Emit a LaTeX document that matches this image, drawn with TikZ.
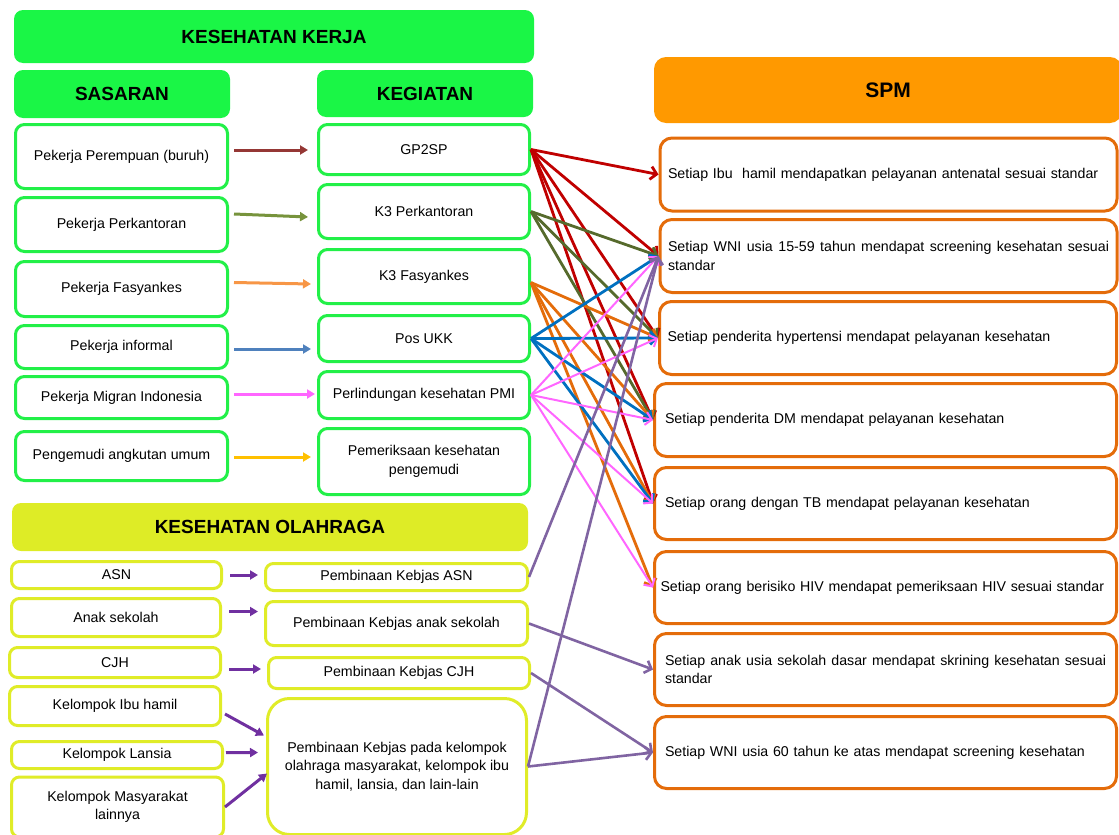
\documentclass[tikz,border=0pt]{standalone}
\usepackage{fontspec}
\setmainfont{Liberation Sans}
\usetikzlibrary{arrows.meta,calc}
\hyphenpenalty=10000
\exhyphenpenalty=10000
\definecolor{hgreen}{RGB}{26,246,70}
\definecolor{bgreen}{RGB}{34,240,72}
\definecolor{hyellow}{RGB}{222,236,38}
\definecolor{byellow}{RGB}{224,236,40}
\definecolor{horange}{RGB}{255,153,0}
\definecolor{borange}{RGB}{228,108,10}
\definecolor{cred}{RGB}{192,0,0}
\definecolor{credl}{RGB}{149,55,53}
\definecolor{colive}{RGB}{86,106,44}
\definecolor{colivel}{RGB}{119,147,60}
\definecolor{corange}{RGB}{228,108,10}
\definecolor{corangel}{RGB}{247,150,70}
\definecolor{cblue}{RGB}{0,112,192}
\definecolor{cbluel}{RGB}{79,129,189}
\definecolor{cpink}{RGB}{255,102,255}
\definecolor{cyell}{RGB}{255,192,0}
\definecolor{cpurple}{RGB}{112,48,160}
\definecolor{cpurplel}{RGB}{128,100,162}
\begin{document}
\begin{tikzpicture}[x=1pt,y=-1pt, font=\fontsize{14.2}{18.5}\selectfont,
  hdr/.style={rounded corners=9pt, inner sep=0pt, font=\fontsize{19}{22}\selectfont\bfseries},
  gbox/.style={draw=bgreen, line width=3pt, rounded corners=9pt, inner sep=0pt, align=center, fill=white},
  ybox/.style={draw=byellow, line width=3pt, rounded corners=8pt, inner sep=0pt, align=center, fill=white},
  obox/.style={draw=borange, line width=3pt, rounded corners=12pt, inner xsep=8pt, inner ysep=0pt, text width=441pt, minimum height=73pt, fill=white},
  sarrow/.style={line width=3pt, -{Triangle[length=8pt,width=9pt]}},
  parrow/.style={line width=3pt, draw=cpurple, -{Triangle[length=8pt,width=9pt]}},
  conn/.style={line width=2.8pt, -{Straight Barb[length=6pt,width=13pt]}},
]
\useasboundingbox (0,0) rectangle (1119,835);
% headers
\node[hdr, fill=hgreen, minimum width=520pt, minimum height=53pt] (kk) at (274,36.5) {KESEHATAN KERJA};
\node[hdr, fill=hgreen, minimum width=216pt, minimum height=48pt] (sas) at (122,94) {SASARAN};
\node[hdr, fill=hgreen, minimum width=216pt, minimum height=47pt] (keg) at (425,93.5) {KEGIATAN};
\node[hdr, fill=hyellow, minimum width=516pt, minimum height=48pt] (ko) at (270,527) {KESEHATAN OLAHRAGA};
\node[hdr, fill=horange, rounded corners=12pt, minimum width=468pt, minimum height=66pt, font=\fontsize{21}{24}\selectfont\bfseries] (spm) at (888,90) {SPM};
% sasaran
\node[gbox, minimum width=212pt, minimum height=64pt] (l1) at (121.5,156.5) {Pekerja Perempuan (buruh)};
\node[gbox, minimum width=212pt, minimum height=54pt] (l2) at (121.5,224.5) {Pekerja Perkantoran};
\node[gbox, minimum width=212pt, minimum height=55pt] (l3) at (121.5,289) {Pekerja Fasyankes};
\node[gbox, minimum width=212pt, minimum height=43pt] (l4) at (121.5,347) {Pekerja informal};
\node[gbox, minimum width=212pt, minimum height=42pt] (l5) at (121.5,397.5) {Pekerja Migran Indonesia};
\node[gbox, minimum width=212pt, minimum height=49pt] (l6) at (121.5,456) {Pengemudi angkutan umum};
% kegiatan
\node[gbox, minimum width=211pt, minimum height=50pt] (r1) at (424,149.5) {GP2SP};
\node[gbox, minimum width=211pt, minimum height=54pt] (r2) at (424,211.5) {K3 Perkantoran};
\node[gbox, minimum width=211pt, minimum height=54pt] (r3) at (424,276.5) {K3 Fasyankes};
\node[gbox, minimum width=211pt, minimum height=46pt] (r4) at (424,338.5) {Pos UKK};
\node[gbox, minimum width=211pt, minimum height=47pt] (r5) at (424,395) {Perlindungan kesehatan PMI};
\node[gbox, minimum width=211pt, minimum height=66pt] (r6) at (424,461.5) {Pemeriksaan kesehatan\\pengemudi};
% olahraga sasaran
\node[ybox, minimum width=210pt, minimum height=27pt] (o1) at (116.5,575) {ASN};
\node[ybox, minimum width=209pt, minimum height=38pt] (o2) at (116,617.5) {Anak sekolah};
\node[ybox, minimum width=211pt, minimum height=30pt] (o3) at (115,662.5) {CJH};
\node[ybox, minimum width=211pt, minimum height=39pt] (o4) at (115,706) {Kelompok Ibu hamil};
\node[ybox, minimum width=211pt, minimum height=27pt] (o5) at (117,755) {Kelompok Lansia};
\node[ybox, minimum width=212pt, minimum height=60pt] (o6) at (117.5,807) {Kelompok Masyarakat\\lainnya};
% olahraga kegiatan
\node[ybox, minimum width=262pt, minimum height=27pt] (p1) at (396.5,577) {Pembinaan Kebjas ASN};
\node[ybox, minimum width=262pt, minimum height=44pt] (p2) at (396.5,623.5) {Pembinaan Kebjas anak sekolah};
\node[ybox, minimum width=261pt, minimum height=31pt] (p3) at (399,673) {Pembinaan Kebjas CJH};
\node[ybox, rounded corners=22pt, minimum width=259pt, minimum height=136pt] (p4) at (397,766.5) {Pembinaan Kebjas pada kelompok\\olahraga masyarakat, kelompok ibu\\hamil, lansia, dan lain-lain};
% SPM
\node[obox, align=left, minimum width=456pt] (s1) at (888.5,174.5) {Setiap Ibu\ \ hamil mendapatkan pelayanan antenatal sesuai standar};
\node[obox, align=justify, minimum width=456pt] (s2) at (888.5,256) {Setiap WNI usia 15-59 tahun mendapat screening kesehatan sesuai standar};
\node[obox, align=left, minimum width=457pt] (s3) at (888,338) {Setiap penderita hypertensi mendapat pelayanan kesehatan};
\node[obox, align=left, minimum width=462pt] (s4) at (885.5,420) {Setiap penderita DM mendapat pelayanan kesehatan};
\node[obox, align=left, minimum width=462pt, minimum height=72pt] (s5) at (885.5,503.5) {Setiap orang dengan TB mendapat pelayanan kesehatan};
\node[obox, align=left, text width=450pt, inner xsep=6pt, minimum width=462pt, minimum height=72pt] (s6) at (885.5,587.5) {Setiap orang berisiko HIV mendapat pemeriksaan HIV sesuai standar};
\node[obox, align=justify, minimum width=462pt, minimum height=72pt] (s7) at (885.5,669.5) {Setiap anak usia sekolah dasar mendapat skrining kesehatan sesuai standar};
\node[obox, align=left, minimum width=462pt, minimum height=72pt] (s8) at (885.5,752.5) {Setiap WNI usia 60 tahun ke atas mendapat screening kesehatan};
% short arrows kesehatan kerja
\draw[sarrow, draw=credl] ([xshift=5pt,yshift=6.5pt]l1.east) -- ([xshift=-9pt,yshift=-0.5pt]r1.west);
\draw[sarrow, draw=colivel] ([xshift=5pt,yshift=10.5pt]l2.east) -- ([xshift=-9pt,yshift=-5.5pt]r2.west);
\draw[sarrow, draw=corangel] ([xshift=5pt,yshift=6.5pt]l3.east) -- ([xshift=-6pt,yshift=-7.5pt]r3.west);
\draw[sarrow, draw=cbluel] ([xshift=5pt,yshift=-2pt]l4.east) -- ([xshift=-6pt,yshift=-10.5pt]r4.west);
\draw[sarrow, draw=cpink] ([xshift=5pt,yshift=3.5pt]l5.east) -- ([xshift=-2pt,yshift=1pt]r5.west);
\draw[sarrow, draw=cyell] ([xshift=5pt,yshift=-1pt]l6.east) -- ([xshift=-6pt,yshift=4.5pt]r6.west);
% short arrows olahraga
\draw[parrow] ([xshift=7pt]o1.east) -- ([xshift=-6pt,yshift=2pt]p1.west);
\draw[parrow] ([xshift=7pt,yshift=6pt]o2.east) -- ([xshift=-6pt,yshift=12pt]p2.west);
\draw[parrow] ([xshift=7pt,yshift=-6.5pt]o3.east) -- ([xshift=-6pt,yshift=4pt]p3.west);
\draw[parrow] ([xshift=3pt,yshift=-8pt]o4.east) -- ([xshift=-2pt,yshift=31pt]p4.west);
\draw[parrow] ([xshift=2pt,yshift=2.3pt]o5.east) -- ([xshift=-8pt,yshift=14pt]p4.west);
\draw[parrow] ([xshift=0pt]o6.east) -- ([xshift=1pt,yshift=-7pt]p4.west);
% long connectors
\foreach \t in {s1,s2,s3,s4,s5} \draw[conn, draw=cred] (r1.east) -- (\t.west);
\foreach \t in {s2,s3,s4} \draw[conn, draw=colive] (r2.east) -- (\t.west);
\foreach \t in {s3,s4,s5,s6} \draw[conn, draw=corange] ([yshift=-6pt]r3.east) -- (\t.west);
\foreach \t in {s2,s3,s4,s5} \draw[conn, draw=cblue] (r4.east) -- (\t.west);
\foreach \t in {s2,s3,s4,s5,s6} \draw[conn, line width=2pt, draw=cpink] (r5.east) -- (\t.west);
\draw[conn, line width=2.6pt, draw=cpurplel] (p1.east) -- (s2.west);
\draw[conn, line width=2.6pt, draw=cpurplel] (p2.east) -- (s7.west);
\draw[conn, line width=2.6pt, draw=cpurplel] (p3.east) -- (s8.west);
\draw[conn, line width=2.6pt, draw=cpurplel] (p4.east) -- (s2.west);
\draw[conn, line width=2.6pt, draw=cpurplel] (p4.east) -- (s8.west);
\end{tikzpicture}
\end{document}
